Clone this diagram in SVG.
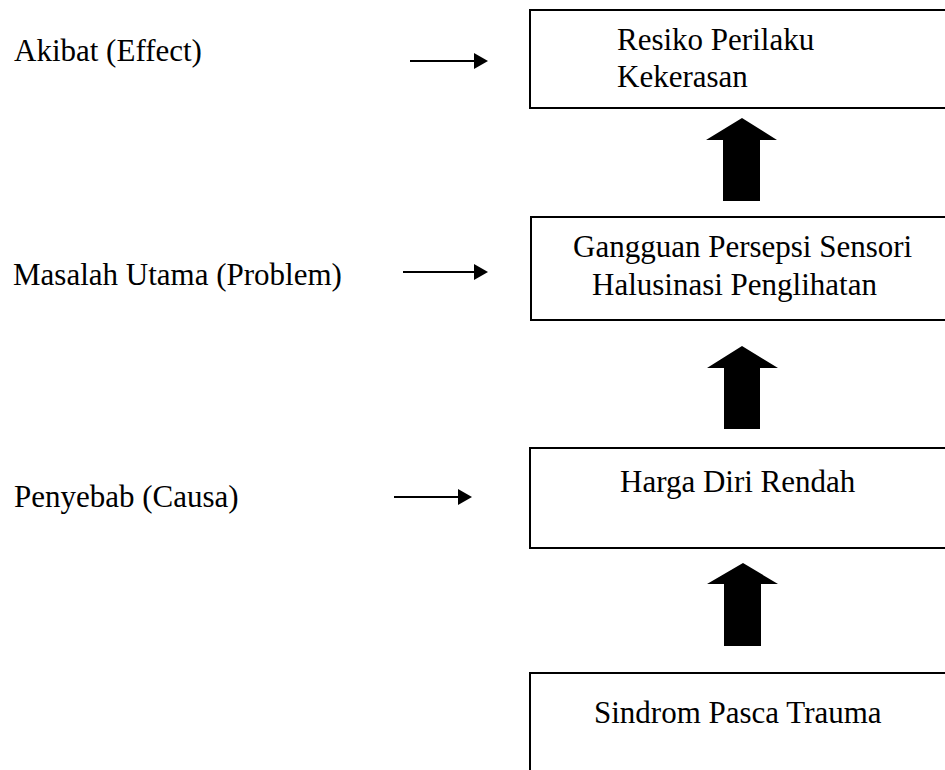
<svg xmlns="http://www.w3.org/2000/svg" width="945" height="770" viewBox="0 0 945 770">
<style>
.t{font-family:"Liberation Serif","Times New Roman",serif;font-size:31px;fill:#000}
.box{fill:#fff;stroke:#000;stroke-width:2}
.ln{stroke:#000;stroke-width:2;fill:none}
.blk{fill:#000}
</style>
<rect width="945" height="770" fill="#fff"/>
<g id="labels">
<text class="t" x="14" y="61">Akibat (Effect)</text>
<text class="t" x="13" y="285">Masalah Utama (Problem)</text>
<text class="t" x="14" y="507">Penyebab (Causa)</text>
</g>
<g id="node-resiko">
<rect class="box" x="530" y="10" width="430" height="98"/>
<text class="t" x="617" y="50">Resiko Perilaku</text>
<text class="t" x="617" y="87">Kekerasan</text>
</g>
<g id="node-gangguan">
<rect class="box" x="531" y="217" width="430" height="103"/>
<text class="t" x="573" y="257">Gangguan Persepsi Sensori</text>
<text class="t" x="592" y="295">Halusinasi Penglihatan</text>
</g>
<g id="node-harga">
<rect class="box" x="530" y="448" width="430" height="100"/>
<text class="t" x="620" y="492">Harga Diri Rendah</text>
</g>
<g id="node-sindrom">
<rect class="box" x="530" y="673" width="430" height="120"/>
<text class="t" x="594" y="723">Sindrom Pasca Trauma</text>
</g>
<g id="connectors">
<polygon class="blk" points="742,118 777,140 760,140 760,201 723,201 723,140 706,140"/>
<polygon class="blk" points="742,346 778,368 760,368 760,429 724,429 724,368 707,368"/>
<polygon class="blk" points="743,563 778,584 761,584 761,646 724,646 724,584 707,584"/>
<line class="ln" x1="410" y1="61" x2="476" y2="61"/>
<polygon class="blk" points="474,53 488,61 474,69"/>
<line class="ln" x1="403" y1="272" x2="476" y2="272"/>
<polygon class="blk" points="474,264 488,272 474,280"/>
<line class="ln" x1="394" y1="497" x2="460" y2="497"/>
<polygon class="blk" points="458,489 472,497 458,505"/>
</g>
</svg>
